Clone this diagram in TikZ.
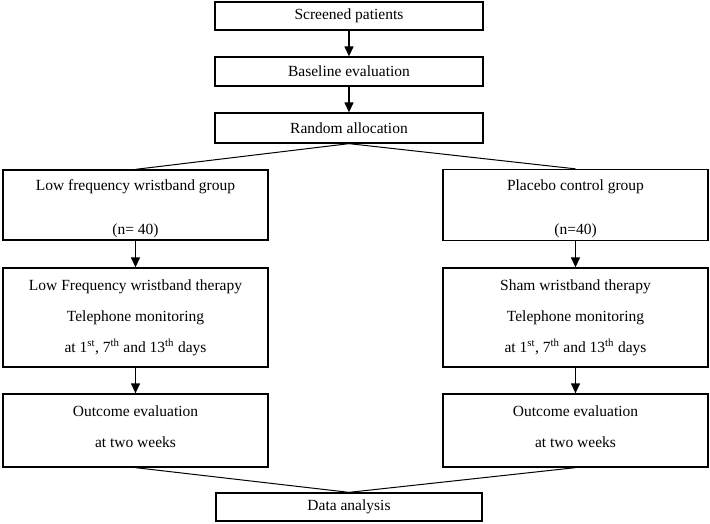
\documentclass[tikz,border=0pt]{standalone}
\usepackage{fontspec}
\setmainfont{Liberation Serif}
\usetikzlibrary{arrows.meta}
\tikzset{
  boxnode/.style={draw, line width=1.3pt, inner sep=0pt, align=center,
    font=\fontsize{15.5}{31}\selectfont},
  arr/.style={line width=1.3pt, -{Triangle[length=10pt,width=9pt]}},
  ln/.style={line width=1pt},
}
\newcommand{\sps}[1]{\textsuperscript{#1}}
\begin{document}
\begin{tikzpicture}[x=1pt,y=-1pt]
\useasboundingbox (0,0) rectangle (710,524);
\node[boxnode, minimum width=268pt, minimum height=28pt] (s) at (349,16) {Screened patients};
\node[boxnode, minimum width=268pt, minimum height=29pt] (b) at (349,71.5) {Baseline evaluation};
\node[boxnode, minimum width=268pt, minimum height=30pt] (r) at (349,128) {Random allocation};
\node[boxnode, minimum width=265pt, minimum height=70pt] (lg) at (135.5,205) {\rule{0pt}{19pt}Low frequency wristband group\\[13pt](n= 40)};
\node[boxnode, minimum width=265pt, minimum height=71pt] (rg) at (575.5,205) {\rule{0pt}{19pt}Placebo control group\\[13pt](n=40)};
\node[boxnode, minimum width=265pt, minimum height=99pt] (lt) at (135.5,317.5) {Low Frequency wristband therapy\\Telephone monitoring\\at 1\sps{st}, 7\sps{th} and 13\sps{th} days};
\node[boxnode, minimum width=265pt, minimum height=99pt] (rt) at (575.5,317.5) {Sham wristband therapy\\Telephone monitoring\\at 1\sps{st}, 7\sps{th} and 13\sps{th} days};
\node[boxnode, minimum width=265pt, minimum height=73pt] (lo) at (135.5,430.5) {Outcome evaluation\\at two weeks\rule[-8.5pt]{0pt}{0pt}};
\node[boxnode, minimum width=265pt, minimum height=73pt] (ro) at (575.5,430.5) {Outcome evaluation\\at two weeks\rule[-8.5pt]{0pt}{0pt}};
\node[boxnode, minimum width=266pt, minimum height=28pt] (d) at (349,507) {Data analysis};
\draw[arr] (s.south) -- (b.north);
\draw[arr] (b.south) -- (r.north);
\draw[ln] (r.south) -- (lg.north);
\draw[ln] (r.south) -- (rg.north);
\draw[arr] (lg.south) -- (lt.north);
\draw[arr] (rg.south) -- (rt.north);
\draw[arr] (lt.south) -- (lo.north);
\draw[arr] (rt.south) -- (ro.north);
\draw[ln] (lo.south) -- (d.north);
\draw[ln] (ro.south) -- (d.north);
\end{tikzpicture}
\end{document}
